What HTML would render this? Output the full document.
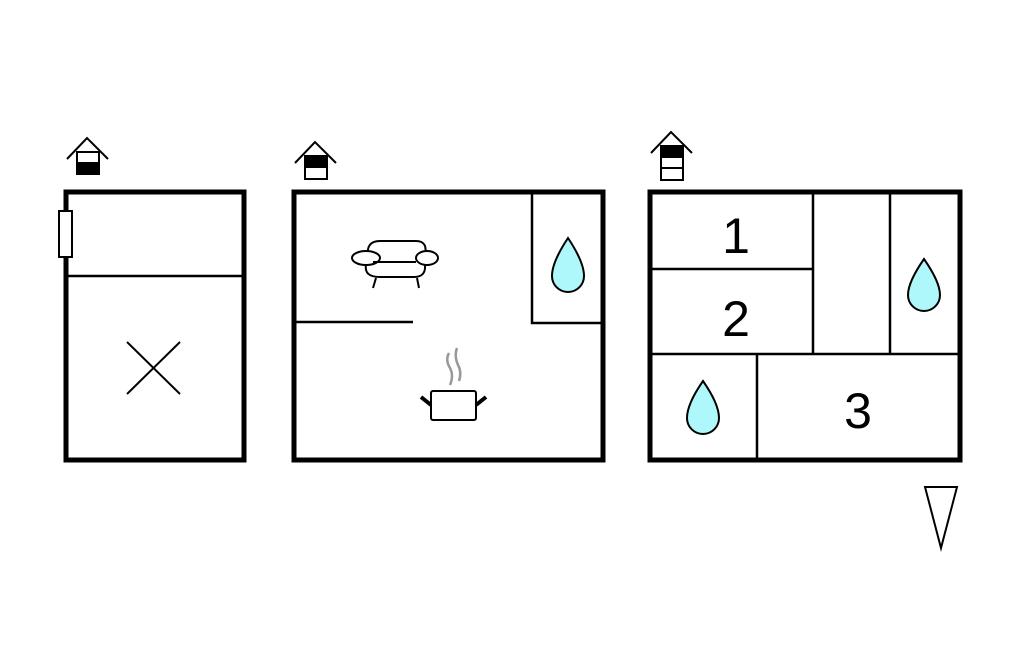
<!DOCTYPE html>
<html><head><style>body{margin:0;background:#fff}</style></head><body>
<svg width="1024" height="652" viewBox="0 0 1024 652" xmlns="http://www.w3.org/2000/svg" style="display:block">
<rect width="1024" height="652" fill="#fff"/>
<g fill="none" stroke="#000">
<!-- houses -->
<polyline points="67,159 87,138 108,159" stroke-width="2"/>
<rect x="77" y="152" width="22" height="22" fill="#fff" stroke-width="2"/>
<rect x="77" y="163" width="22" height="11" fill="#000" stroke-width="2"/>
<polyline points="295,163 315,142 336,163" stroke-width="2"/>
<rect x="305" y="156" width="22" height="23" fill="#fff" stroke-width="2"/>
<rect x="305" y="156" width="22" height="11" fill="#000" stroke-width="2"/>
<polyline points="651,153 671,132 692,153" stroke-width="2"/>
<rect x="661" y="146" width="22" height="34" fill="#fff" stroke-width="2"/>
<rect x="661" y="146" width="22" height="11" fill="#000" stroke-width="2"/>
<line x1="661" y1="168" x2="683" y2="168" stroke-width="2"/>

<!-- box1 -->
<rect x="66" y="192" width="178" height="268" stroke-width="5"/>
<line x1="66" y1="276" x2="244" y2="276" stroke-width="2.5"/>
<rect x="59" y="211" width="13" height="46" fill="#fff" stroke-width="2"/>
<line x1="127" y1="342" x2="180" y2="394" stroke-width="2"/>
<line x1="180" y1="342" x2="127" y2="394" stroke-width="2"/>

<!-- box2 -->
<rect x="294" y="192" width="309" height="268" stroke-width="5"/>
<rect x="532" y="192" width="71" height="131" stroke-width="2.5"/>
<line x1="296" y1="322" x2="413" y2="322" stroke-width="2.5"/>
<!-- sofa -->
<path d="M368,256 Q366,241 380,241 L416,241 Q428,241 425,255" stroke-width="2"/>
<ellipse cx="366" cy="258" rx="14" ry="7" fill="#fff" stroke-width="2"/>
<ellipse cx="427" cy="258" rx="11" ry="7" fill="#fff" stroke-width="2"/>
<line x1="373" y1="262" x2="416" y2="262" stroke-width="2"/>
<path d="M366,265 Q364,277 380,277 L414,277 Q426,277 425,265" stroke-width="2"/>
<line x1="376" y1="278" x2="373" y2="288" stroke-width="2"/>
<line x1="417" y1="278" x2="419" y2="288" stroke-width="2"/>
<!-- pot -->
<rect x="431" y="391" width="45" height="29" rx="2" stroke-width="2"/>
<line x1="421" y1="397" x2="431" y2="405" stroke-width="4"/>
<line x1="486" y1="397" x2="476" y2="405" stroke-width="4"/>
<path d="M449,353 Q445,360 450,368 Q454,376 450,385" stroke="#999" stroke-width="2.5"/>
<path d="M457,348 Q454,356 458,365 Q462,372 459,381" stroke="#999" stroke-width="2.5"/>
<!-- drops -->
<path d="M568,238 Q552,262 552,276 A16,16 0 0 0 584,276 Q584,262 568,238 Z" fill="#aef8fb" stroke-width="2"/>
<path d="M924,259 Q908,282 908,295 A16,16 0 0 0 940,295 Q940,282 924,259 Z" fill="#aef8fb" stroke-width="2"/>
<path d="M703,381 Q687,404 687,418 A16,16 0 0 0 719,418 Q719,404 703,381 Z" fill="#aef8fb" stroke-width="2"/>

<!-- box3 -->
<rect x="650" y="192" width="310" height="268" stroke-width="5"/>
<line x1="652" y1="269" x2="813" y2="269" stroke-width="2.5"/>
<line x1="813" y1="193" x2="813" y2="355" stroke-width="2.5"/>
<line x1="890" y1="193" x2="890" y2="355" stroke-width="2.5"/>
<line x1="652" y1="354" x2="958" y2="354" stroke-width="2.5"/>
<line x1="757" y1="354" x2="757" y2="459" stroke-width="2.5"/>
<!-- triangle -->
<polygon points="925,487 957,487 941,548" stroke-width="2"/>
</g>
<g font-family="Liberation Sans, sans-serif" font-size="50" text-anchor="middle" fill="#000">
<text x="736" y="253">1</text>
<text x="736" y="336">2</text>
<text x="858" y="428">3</text>
</g>
</svg>
</body></html>
